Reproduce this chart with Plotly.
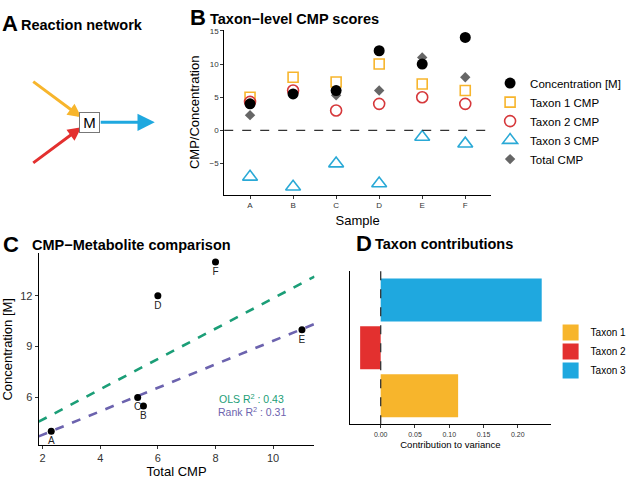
import plotly.graph_objects as go

# ---------------- data ----------------
samples = ["A", "B", "C", "D", "E", "F"]
concentration = [4, 5.5, 6, 12, 10, 14]
taxon1_cmp = [5, 8, 7.3, 10, 7, 6]
taxon2_cmp = [4.3, 6, 3, 4, 5, 4]
taxon3_cmp = [-7, -8.5, -5, -8, -1, -2]
total_cmp = [2.3, 5.5, 5.3, 6, 11, 8]

ols_fit = [2.90, 0.895]     # intercept, slope
rank_fit = [2.41, 0.693]
r2_labels = ["OLS R<sup>2</sup> : 0.43", "Rank R<sup>2</sup> : 0.31"]

taxa = ["Taxon 1", "Taxon 2", "Taxon 3"]
contrib = [0.113, -0.030, 0.235]

# reaction network schematic (panel A, pixel-like coordinates)
net_src_x = [32, 32]
net_src_y = [78, 162]
net_node = [90, 120]
net_sink = [156, 120]

YEL = "#F7B52C"
RED = "#E3302F"
BLU = "#1FA8DF"
BLU_M = "#2AA9D6"
RED_M = "#D6383B"
GRN = "#1B9E77"
PUR = "#6C63AE"
FONT = "Liberation Sans, Arial, sans-serif"

W, H = 632, 479
def px(v): return v / W
def py(v): return 1 - v / H

fig = go.Figure()

# ---------------- panel B ----------------
specs = [
    ("Taxon 1 CMP", taxon1_cmp, dict(symbol="square-open", size=10, color=YEL, line=dict(width=1.6, color=YEL)), 2),
    ("Taxon 2 CMP", taxon2_cmp, dict(symbol="circle-open", size=11, color=RED_M, line=dict(width=1.6, color=RED_M)), 3),
    ("Taxon 3 CMP", taxon3_cmp, dict(symbol="triangle-up-open", size=13, color=BLU_M, line=dict(width=1.6, color=BLU_M)), 4),
    ("Total CMP", total_cmp, dict(symbol="diamond", size=8, color="#666666"), 5),
    ("Concentration [M]", concentration, dict(symbol="circle", size=11, color="black"), 1),
]
for name, vals, mk, rank in specs:
    fig.add_trace(go.Scatter(x=samples, y=vals, mode="markers", name=name, marker=mk,
                             xaxis="x", yaxis="y", legend="legend", legendrank=rank))

# ---------------- panel C ----------------
xr_c = [1.865, 11.435]
for fit, col in [(ols_fit, GRN), (rank_fit, PUR)]:
    fig.add_trace(go.Scatter(x=xr_c, y=[fit[0] + fit[1] * v for v in xr_c], mode="lines",
                             line=dict(color=col, width=2.6, dash="dash"),
                             xaxis="x2", yaxis="y2", showlegend=False, hoverinfo="skip"))
fig.add_trace(go.Scatter(x=total_cmp, y=concentration, mode="markers+text", text=samples,
                         textposition="bottom center", textfont=dict(size=10, color="#222", family=FONT),
                         marker=dict(color="black", size=7), xaxis="x2", yaxis="y2", showlegend=False))

# ---------------- panel D ----------------
bar_cols = [YEL, RED, BLU]
fig.add_trace(go.Bar(x=contrib, y=taxa, orientation="h", width=0.9, marker=dict(color=bar_cols, line=dict(width=0)),
                     xaxis="x3", yaxis="y3", showlegend=False))
for t, c in zip(taxa, bar_cols):
    fig.add_trace(go.Scatter(x=[None], y=[None], mode="markers", name=t,
                             marker=dict(symbol="square", size=16, color=c),
                             xaxis="x3", yaxis="y3", legend="legend2"))

# ---------------- layout ----------------
axis_common = dict(showline=True, linecolor="black", linewidth=1, ticks="outside", ticklen=3,
                   tickcolor="#333", showgrid=False, zeroline=False)
fig.update_layout(
    width=W, height=H, autosize=False, margin=dict(l=0, r=0, t=0, b=0),
    plot_bgcolor="white", paper_bgcolor="white",
    font=dict(family=FONT, color="black"),
    xaxis=dict(axis_common, domain=[px(226), px(495)], anchor="y", type="category",
               range=[-0.6, 5.6], tickfont=dict(size=8, color="#333"),
               title=dict(text="Sample", font=dict(size=13), standoff=6)),
    yaxis=dict(axis_common, domain=[py(193), py(27)], anchor="x", range=[-9.7, 15.15],
               tickvals=[-5, 0, 5, 10, 15], ticktext=["−5", "0", "5", "10", "15"],
               tickfont=dict(size=8, color="#333"),
               title=dict(text="CMP/Concentration", font=dict(size=13), standoff=6)),
    xaxis2=dict(axis_common, domain=[px(39), px(317)], anchor="y2", range=xr_c,
                tickvals=[2, 4, 6, 8, 10], tickfont=dict(size=11, color="#333"),
                title=dict(text="Total CMP", font=dict(size=13), standoff=2)),
    yaxis2=dict(axis_common, domain=[py(445), py(252)], anchor="x2", range=[3.18, 14.5],
                tickvals=[6, 9, 12], tickfont=dict(size=11, color="#333"),
                title=dict(text="Concentration [M]", font=dict(size=13), standoff=4)),
    xaxis3=dict(axis_common, domain=[px(353), px(555)], anchor="y3", range=[-0.0445, 0.248],
                tickvals=[0, 0.05, 0.10, 0.15, 0.20], ticktext=["0.00", "0.05", "0.10", "0.15", "0.20"],
                tickfont=dict(size=7, color="#333"),
                title=dict(text="Contribution to variance", font=dict(size=9.5), standoff=4)),
    yaxis3=dict(axis_common, domain=[py(424), py(270)], anchor="x3", type="category",
                range=[-0.6, 2.6], ticks="", showticklabels=False),
    xaxis4=dict(domain=[0, px(190)], range=[0, 190], visible=False, anchor="y4"),
    yaxis4=dict(domain=[py(210), 1], range=[210, 0], visible=False, anchor="x4"),
    legend=dict(x=px(494), y=py(66), xanchor="left", yanchor="top", font=dict(size=11.5),
                bgcolor="rgba(0,0,0,0)", tracegroupgap=0, itemsizing="trace"),
    legend2=dict(x=px(555), y=py(317), xanchor="left", yanchor="top", font=dict(size=10),
                 bgcolor="rgba(0,0,0,0)"),
    showlegend=True,
)

# dashed reference lines
fig.add_shape(type="line", xref="x domain", yref="y", x0=0, x1=1, y0=0, y1=0,
              line=dict(color="#333", width=1.3, dash="dash"))
fig.add_shape(type="line", xref="x3", yref="y3 domain", x0=0, x1=0, y0=0, y1=1,
              line=dict(color="#333", width=1.3, dash="dash"), layer="above")

# R^2 labels
fig.add_annotation(x=9.25, y=5.95, xref="x2", yref="y2", text=r2_labels[0], showarrow=False,
                   font=dict(size=10.5, color=GRN))
fig.add_annotation(x=9.25, y=5.18, xref="x2", yref="y2", text=r2_labels[1], showarrow=False,
                   font=dict(size=10.5, color=PUR))

# panel titles
titles = [("A", "Reaction network", 0, 19, 21), ("B", "Taxon−level CMP scores", 189, 210, 15),
          ("C", "CMP−Metabolite comparison", 1, 30, 243), ("D", "Taxon contributions", 357, 376, 242)]
for letter, txt, lx, tx, ty in titles:
    fig.add_annotation(x=px(lx), y=py(ty), xref="paper", yref="paper", xanchor="left", yanchor="middle",
                       text=f"<b>{letter}</b>", showarrow=False, font=dict(size=22))
    fig.add_annotation(x=px(tx), y=py(ty + 1), xref="paper", yref="paper", xanchor="left", yanchor="middle",
                       text=f"<b>{txt}</b>", showarrow=False, font=dict(size=14.5))

# panel A schematic
for sx, sy, col, dy in [(net_src_x[0], net_src_y[0], YEL, -5), (net_src_x[1], net_src_y[1], RED, 5)]:
    fig.add_annotation(x=net_node[0] - 8, y=net_node[1] + dy, ax=sx, ay=sy, xref="x4", yref="y4",
                       axref="x4", ayref="y4", text="", showarrow=True, arrowhead=2, arrowsize=0.9,
                       arrowwidth=3, arrowcolor=col, standoff=0)
fig.add_annotation(x=net_sink[0], y=net_sink[1], ax=net_node[0] + 10, ay=net_node[1], xref="x4", yref="y4",
                   axref="x4", ayref="y4", text="", showarrow=True, arrowhead=2, arrowsize=1.15,
                   arrowwidth=3, arrowcolor=BLU, standoff=0)
fig.add_annotation(x=net_node[0], y=net_node[1], xref="x4", yref="y4", text="M", showarrow=False,
                   font=dict(size=15), bgcolor="white", bordercolor="#777", borderwidth=1,
                   borderpad=1, width=17, height=17)

post = ("document.documentElement.style.overflow='hidden';"
        "document.body.style.margin='0';document.body.style.overflow='hidden';"
        "Plotly.relayout(document.getElementById('{plot_id}'), {width: 632, height: 479, autosize: false});")
fig.write_html("out.html", config={"responsive": False, "displayModeBar": False}, post_script=post)
